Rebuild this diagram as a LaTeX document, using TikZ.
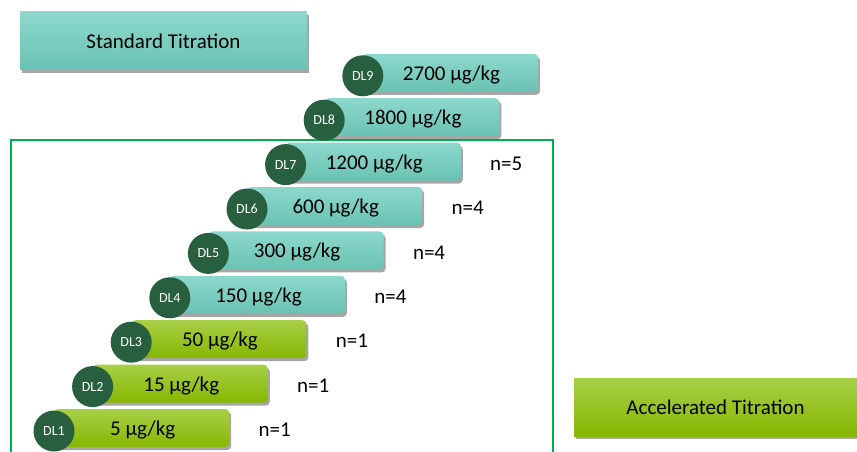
\documentclass[tikz,border=0pt]{standalone}
\usepackage{fontspec}
\setmainfont{Carlito}
\usetikzlibrary{shadows,calc}

\definecolor{tealtop}{HTML}{8DD8CD}
\definecolor{tealbot}{HTML}{69C2B2}
\definecolor{greentop}{HTML}{A8CF48}
\definecolor{greenbot}{HTML}{86B700}
\definecolor{dldark}{HTML}{285F3F}
\definecolor{framegreen}{HTML}{00B050}

\tikzset{
  boxshadow/.style={drop shadow={shadow xshift=2pt, shadow yshift=-3pt, opacity=0.35, fill=black}},
  titlebox/.style={rectangle, boxshadow, minimum width=287pt, minimum height=58pt,
                   font=\fontsize{21}{24}\selectfont, inner sep=0pt},
  doseteal/.style={top color=tealtop, bottom color=tealbot},
  dosegreen/.style={top color=greentop, bottom color=greenbot},
  dosebar/.style={rectangle, rounded corners=4pt, boxshadow, minimum width=175pt,
                  minimum height=38pt, anchor=west, inner sep=0pt},
  dlcircle/.style={circle, fill=dldark, minimum size=41pt, inner sep=0pt,
                   text=white, font=\fontsize{14}{16}\selectfont},
  dosetext/.style={font=\fontsize{21}{24}\selectfont, inner sep=0pt},
  ntext/.style={font=\fontsize{21}{24}\selectfont, anchor=west, inner sep=0pt}
}

\begin{document}
\begin{tikzpicture}[x=1pt, y=-1pt]
    \useasboundingbox (0,0) rectangle (857,452);

    % title boxes
    \node[titlebox, doseteal] (standard) at (163.5, 41) {Standard Titration};
    \node[titlebox, dosegreen, minimum width=283pt] (accelerated) at (715.5, 407) {Accelerated Titration};

    % accelerated phase frame
    \draw[framegreen, line width=2.5pt] (11, 140) rectangle (553, 470);

    % dose levels
    \foreach \i/\dose/\n/\col in {1/5/1/dosegreen, 2/15/1/dosegreen, 3/50/1/dosegreen,
                                 4/150/4/doseteal, 5/300/4/doseteal, 6/600/4/doseteal,
                                 7/1200/5/doseteal, 8/1800//doseteal, 9/2700//doseteal}
    {
      \pgfmathsetmacro{\xc}{54 + (\i-1)*38.6}
      \pgfmathsetmacro{\yc}{428 - (\i-1)*44.4}
      \node[dosebar, \col] (bar\i) at (\xc, \yc) {};
      \node[dlcircle] (dl\i) at (\xc, \yc+3) {DL\i};
      \node[dosetext] (dose\i) at ($(bar\i.center)+(1,2)$) {\dose\ µg/kg};
      \ifx\n\empty\else
        \node[ntext] (n\i) at ($(bar\i.east)+(29,2)$) {n=\n};
      \fi
    }
\end{tikzpicture}
\end{document}
